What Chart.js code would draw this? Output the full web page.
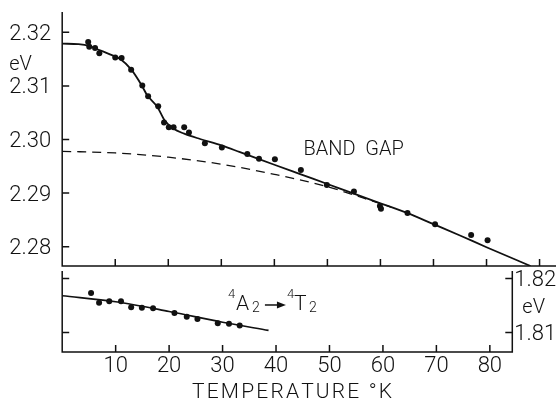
<!DOCTYPE html>
<html>
<head>
<meta charset="utf-8">
<script src="https://cdn.jsdelivr.net/npm/chart.js@4.4.1/dist/chart.umd.min.js"></script>
<style>
  html, body { margin: 0; padding: 0; background: #fff; }
  #wrap { position: relative; width: 560px; height: 400px; }
  #wrap canvas { position: absolute; left: 0; top: 0; }
</style>
</head>
<body>
<div id="wrap">
  <canvas id="gap-chart" width="560" height="400"></canvas>
  <canvas id="field-chart" width="560" height="400"></canvas>
</div>
<script>
// upper panel: band gap (eV) vs temperature (K)
const gapTemps = [4.9, 5.1, 6.2, 7.0, 10.0, 11.2, 13.0, 15.1, 16.2, 18.1, 19.2, 20.1, 21.0, 23.0, 23.9, 26.9, 30.1, 34.9, 37.1, 40.1, 45.0, 49.9, 55.0, 59.9, 60.1, 65.1, 70.3, 77.1, 80.2]
const gapEnergies = [2.3182, 2.3173, 2.3171, 2.3161, 2.3153, 2.3152, 2.3130, 2.3101, 2.3081, 2.3062, 2.3032, 2.3023, 2.3023, 2.3023, 2.3013, 2.2993, 2.2985, 2.2973, 2.2964, 2.2963, 2.2943, 2.2915, 2.2903, 2.2876, 2.2871, 2.2863, 2.2842, 2.2822, 2.2812]

// solid fitted curve through the band gap points
const fitTemps = [0, 3, 5, 7, 9, 11, 13, 15, 16, 18, 19.3, 21, 23, 26, 30, 33.4, 40, 45, 50, 55, 60, 65, 70, 75, 80, 88.3]
const fitEnergies = [2.3179, 2.3178, 2.3175, 2.3167, 2.3159, 2.3150, 2.3131, 2.3101, 2.3083, 2.3060, 2.3036, 2.3020, 2.3011, 2.3001, 2.2989, 2.2977, 2.2953, 2.2935, 2.2917, 2.2899, 2.2881, 2.2863, 2.2842, 2.2821, 2.2799, 2.2764]

// dashed curve
const baseTemps = [0, 10, 20, 30, 40, 50, 57, 62]
const baseEnergies = [2.2978, 2.2975, 2.2967, 2.2954, 2.2935, 2.2912, 2.2890, 2.2874]

// lower panel: 4A2 -> 4T2 transition
const fieldTemps = [5.4, 6.9, 8.8, 11.0, 12.9, 14.9, 17.0, 21.0, 23.3, 25.3, 29.1, 31.2, 33.2]
const fieldEnergies = [1.8173, 1.8155, 1.8158, 1.8158, 1.8147, 1.8146, 1.8145, 1.8136, 1.8129, 1.8125, 1.8117, 1.8116, 1.8113]
const fieldFitTemps = [0, 10, 20, 30, 38.6]
const fieldFitEnergies = [1.8168, 1.8157, 1.8139, 1.8119, 1.8104]

// ticks
const gapTicks = [2.28, 2.29, 2.30, 2.31, 2.32]
const fieldTicks = [1.81, 1.82]
const upperTempTicks = [10, 20, 30, 40, 50, 60, 70, 80, 90]
const tempTicks = [10, 20, 30, 40, 50, 60, 70, 80]

const ink = "#111"
const family = "Roboto, 'Liberation Sans', sans-serif"
Chart.defaults.font.family = family
Chart.defaults.font.weight = 300
Chart.defaults.color = ink

const zip = (xs, ys) => xs.map((x, i) => ({ x, y: ys[i] }))
const fixTicks = (values) => (scale) => { scale.ticks = values.map(v => ({ value: v })) }

// keep label overflow from pushing the plot area around
const fixSize = (prop, size) => (scale) => {
    scale[prop] = size
    scale.paddingTop = scale.paddingBottom = scale.paddingLeft = scale.paddingRight = 0
}

// axes drawn by hand so the tick marks can point inwards
const inwardAxesPlugin = {
    id: "inwardAxes",
    afterDraw: (chart, args, opts) => {
        const { ctx, chartArea: area, scales } = chart
        const len = opts.tickLength || 7

        ctx.save()
        ctx.strokeStyle = ink
        ctx.fillStyle = ink
        ctx.lineWidth = 1.5
        ctx.beginPath()
        ctx.moveTo(area.left, area.top)
        ctx.lineTo(area.left, area.bottom)
        ctx.lineTo(area.right, area.bottom)
        if (opts.rightAxis) ctx.lineTo(area.right, area.top)
        ctx.stroke()

        ctx.beginPath()
        opts.xTicks.forEach(v => {
            const px = scales.x.getPixelForValue(v)
            ctx.moveTo(px, area.bottom)
            ctx.lineTo(px, area.bottom - len)
        })
        opts.yTicks.forEach(v => {
            const py = scales.y.getPixelForValue(v)
            ctx.moveTo(area.left, py)
            ctx.lineTo(area.left + len, py)
            if (opts.rightAxis) {
                ctx.moveTo(area.right, py)
                ctx.lineTo(area.right - len, py)
            }
        })
        ctx.stroke()

        if (opts.decorate) opts.decorate(chart, ctx)
        ctx.restore()
    }
}

// spread the letters out to a given width, like stencil lettering
function spacedText(ctx, text, cx, baseline, width) {
    const chars = [...text]
    const widths = chars.map(c => ctx.measureText(c).width)
    const total = widths.reduce((a, b) => a + b, 0)
    const gap = (width - total) / (chars.length - 1)
    let x = cx - width / 2
    ctx.textAlign = "left"
    ctx.textBaseline = "alphabetic"
    chars.forEach((c, i) => {
        ctx.fillText(c, x, baseline)
        x += widths[i] + gap
    })
}

function drawGapLabels(chart, ctx) {
    const { x, y } = chart.scales
    ctx.textBaseline = "middle"
    ctx.textAlign = "left"
    ctx.font = `300 20px ${family}`
    ctx.fillText("eV", chart.chartArea.left - 53, y.getPixelForValue(2.3140))
    ctx.fillText("BAND  GAP", x.getPixelForValue(45.5), y.getPixelForValue(2.2980))
}

function drawFieldLabels(chart, ctx) {
    const { x, y } = chart.scales
    ctx.textAlign = "left"
    ctx.textBaseline = "middle"
    ctx.font = `300 20px ${family}`
    ctx.fillText("eV", chart.chartArea.right + 10, y.getPixelForValue(1.81463))

    // axis title
    ctx.font = `300 21px ${family}`
    spacedText(ctx, "TEMPERATURE °K", x.getPixelForValue(43.0), chart.chartArea.bottom + 46, 200)

    // 4A2 -> 4T2
    const x0 = x.getPixelForValue(31.0)
    const y0 = y.getPixelForValue(1.81417)
    const big = `300 21px ${family}`
    const sup = `300 13px ${family}`
    const sub = `300 14px ${family}`
    ctx.textAlign = "left"
    ctx.textBaseline = "alphabetic"
    ctx.font = sup; ctx.fillText("4", x0, y0 - 12)
    ctx.font = big; ctx.fillText("A", x0 + 8, y0)
    ctx.font = sub; ctx.fillText("2", x0 + 24, y0 + 2)
    ctx.lineWidth = 1.5
    ctx.beginPath()
    ctx.moveTo(x0 + 37, y0 - 5)
    ctx.lineTo(x0 + 52, y0 - 5)
    ctx.stroke()
    ctx.beginPath()
    ctx.moveTo(x0 + 58, y0 - 5)
    ctx.lineTo(x0 + 49, y0 - 8.5)
    ctx.lineTo(x0 + 49, y0 - 1.5)
    ctx.closePath()
    ctx.fill()
    ctx.font = sup; ctx.fillText("4", x0 + 59, y0 - 12)
    ctx.font = big; ctx.fillText("T", x0 + 66, y0)
    ctx.font = sub; ctx.fillText("2", x0 + 81, y0 + 2)
}

const pointStyle = { type: "scatter", pointRadius: 3, pointBackgroundColor: ink, pointBorderWidth: 0, showLine: false }
const curveStyle = { type: "line", borderColor: ink, borderWidth: 1.8, pointRadius: 0, cubicInterpolationMode: "monotone", fill: false }

new Chart(document.getElementById("gap-chart"), {
    type: "line",
    data: {
        datasets: [
            { ...pointStyle, data: zip(gapTemps, gapEnergies) },
            { ...curveStyle, data: zip(fitTemps, fitEnergies) },
            { ...curveStyle, data: zip(baseTemps, baseEnergies), borderWidth: 1.3, borderDash: [9, 6] }
        ]
    },
    options: {
        responsive: false,
        animation: false,
        layout: { padding: { top: 12, bottom: 134, left: 0, right: 0 } },
        plugins: {
            legend: { display: false },
            tooltip: { enabled: false },
            inwardAxes: { xTicks: upperTempTicks, yTicks: gapTicks, tickLength: 7, decorate: drawGapLabels }
        },
        scales: {
            x: { type: "linear", display: false, min: 0, max: 93.1 },
            y: {
                type: "linear",
                min: 2.2764,
                max: 2.3238,
                grid: { display: false, drawTicks: false },
                border: { display: false },
                afterBuildTicks: fixTicks(gapTicks),
                afterFit: fixSize("width", 62.2),
                ticks: { padding: 11, labelOffset: 2, font: { size: 22, lineHeight: 1 }, callback: v => v.toFixed(2) }
            }
        }
    },
    plugins: [inwardAxesPlugin]
})

new Chart(document.getElementById("field-chart"), {
    type: "line",
    data: {
        datasets: [
            { ...pointStyle, data: zip(fieldTemps, fieldEnergies) },
            { ...curveStyle, data: zip(fieldFitTemps, fieldFitEnergies), borderWidth: 1.6 }
        ]
    },
    options: {
        responsive: false,
        animation: false,
        layout: { padding: { top: 271, bottom: 0, left: 62.2, right: 0 } },
        plugins: {
            legend: { display: false },
            tooltip: { enabled: false },
            inwardAxes: { xTicks: tempTicks, yTicks: fieldTicks, rightAxis: true, tickLength: 7, decorate: drawFieldLabels }
        },
        scales: {
            x: {
                type: "linear",
                min: 0,
                max: 84.2,
                grid: { display: false, drawTicks: false },
                border: { display: false },
                afterBuildTicks: fixTicks(tempTicks),
                afterFit: fixSize("height", 48),
                ticks: { padding: 3, maxRotation: 0, autoSkip: false, font: { size: 22, lineHeight: 1 } }
            },
            y: { type: "linear", display: false, min: 1.80639, max: 1.82139 },
            y2: {
                type: "linear",
                position: "right",
                min: 1.80639,
                max: 1.82139,
                grid: { display: false, drawTicks: false },
                border: { display: false },
                afterBuildTicks: fixTicks(fieldTicks),
                afterFit: fixSize("width", 47.7),
                ticks: { padding: 2, labelOffset: 2, font: { size: 22, lineHeight: 1 }, callback: v => v.toFixed(2) }
            }
        }
    },
    plugins: [inwardAxesPlugin]
})
</script>
</body>
</html>
